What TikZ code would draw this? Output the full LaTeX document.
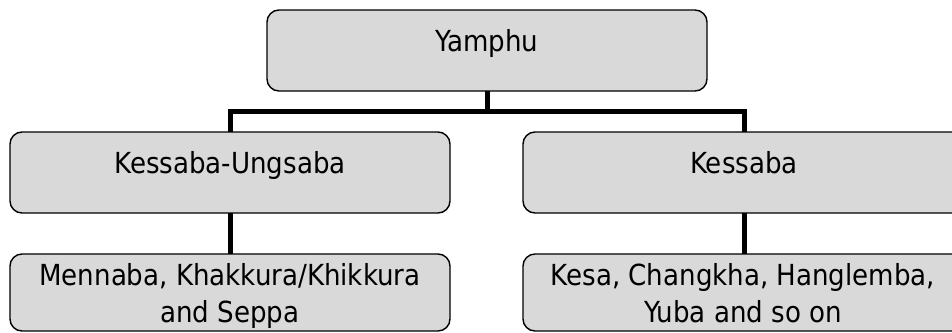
\documentclass[tikz,border=0pt]{standalone}
\usepackage{fontspec}
\setmainfont{DejaVu Sans Condensed}
\definecolor{boxgray}{HTML}{D9D9D9}
\begin{document}
\begin{tikzpicture}[x=1bp,y=-1bp,
  box/.style={draw=black, line width=1.4bp, fill=boxgray, rounded corners=12bp,
    minimum width=440bp, inner sep=0pt, outer sep=0pt},
  lbl/.style={anchor=base, align=center, inner sep=0pt, font=\fontsize{29bp}{37bp}\selectfont},
  conn/.style={draw=black, line width=5bp}]
\useasboundingbox (0,0) rectangle (952,332);
\clip (0,0) rectangle (952,332);
% boxes
\node[box, minimum height=81bp] (top) at (487,50.5) {};
\node[box, minimum height=81bp] (ku) at (230,172.5) {};
\node[box, minimum height=81bp, minimum width=442bp] (k) at (744,172.5) {};
\node[box, minimum height=77bp] (mk) at (230,292.5) {};
\node[box, minimum height=77bp, minimum width=442bp] (kc) at (744,292.5) {};
% connectors
\coordinate (j) at (487,111.5);
\draw[conn] (top.south) -- (j);
\draw[conn] (ku.north) |- (j) -| (k.north);
\draw[conn] (ku.south) -- (mk.north);
\draw[conn] (k.south) -- (kc.north);
% labels
\node[lbl] (ttop) at (487,51) {Yamphu};
\node[lbl] (tku) at (230,173) {Kessaba-Ungsaba};
\node[lbl] (tk) at (744,173) {Kessaba};
\node[lbl] (tmk) at (230,322) {Mennaba, Khakkura/Khikkura\\and Seppa};
\node[lbl] (tkc) at (743,322) {Kesa, Changkha, Hanglemba,\\Yuba and so on};
\end{tikzpicture}
\end{document}
